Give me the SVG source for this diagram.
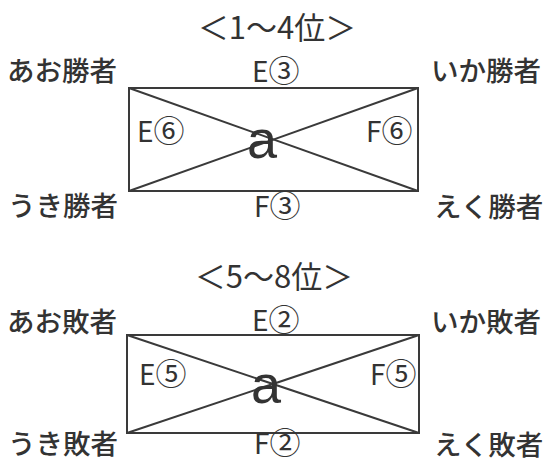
<svg xmlns="http://www.w3.org/2000/svg" width="549" height="463" viewBox="0 0 549 463">
<style>
.t{font-family:"Noto Sans CJK JP","Noto Sans",sans-serif;fill:#333;}
.ttl{font-size:31px;text-anchor:middle;}
.lab{font-size:27.5px;font-weight:500;}
.m{font-size:28px;}
.c{font-size:31px;}
.a{font-family:"Liberation Sans",Arial,sans-serif;font-size:54px;fill:#333;}
.ln{stroke:#3a3a3a;stroke-width:2;fill:none;}
</style>
<rect width="549" height="463" fill="#fff"/>
<g id="title1"><text class="t ttl" x="277" y="39">＜1～4位＞</text></g>
<g id="title2"><text class="t ttl" x="274" y="288">＜5～8位＞</text></g>
<g id="connectors">
<rect class="ln" x="129" y="88" width="289" height="103"/>
<line class="ln" x1="129" y1="88" x2="418" y2="191"/>
<line class="ln" x1="418" y1="88" x2="129" y2="191"/>
<rect class="ln" x="127" y="335" width="292" height="98"/>
<line class="ln" x1="127" y1="335" x2="419" y2="433"/>
<line class="ln" x1="419" y1="335" x2="127" y2="433"/>
</g>
<g id="ao-win"><text class="t lab" x="7" y="81">あお勝者</text></g>
<g id="ika-win"><text class="t lab" x="431" y="81">いか勝者</text></g>
<g id="uki-win"><text class="t lab" x="8" y="216">うき勝者</text></g>
<g id="eku-win"><text class="t lab" x="434" y="217">えく勝者</text></g>
<g id="e3"><text class="t m" x="252" y="82">E<tspan class="c">③</tspan></text></g>
<g id="e6"><text class="t m" x="137" y="142">E<tspan class="c">⑥</tspan></text></g>
<g id="f6"><text class="t m" x="366" y="142">F<tspan class="c">⑥</tspan></text></g>
<g id="f3"><text class="t m" x="254" y="217">F<tspan class="c">③</tspan></text></g>
<g id="a1"><text class="a" x="247" y="158">a</text></g>
<g id="ao-lose"><text class="t lab" x="7" y="332">あお敗者</text></g>
<g id="ika-lose"><text class="t lab" x="431" y="332">いか敗者</text></g>
<g id="uki-lose"><text class="t lab" x="8" y="454">うき敗者</text></g>
<g id="eku-lose"><text class="t lab" x="434" y="455">えく敗者</text></g>
<g id="e2"><text class="t m" x="252" y="331">E<tspan class="c">②</tspan></text></g>
<g id="e5"><text class="t m" x="139" y="385">E<tspan class="c">⑤</tspan></text></g>
<g id="f5"><text class="t m" x="370" y="385">F<tspan class="c">⑤</tspan></text></g>
<g id="f2"><text class="t m" x="254" y="454">F<tspan class="c">②</tspan></text></g>
<g id="a2"><text class="a" x="251" y="403">a</text></g>
</svg>
